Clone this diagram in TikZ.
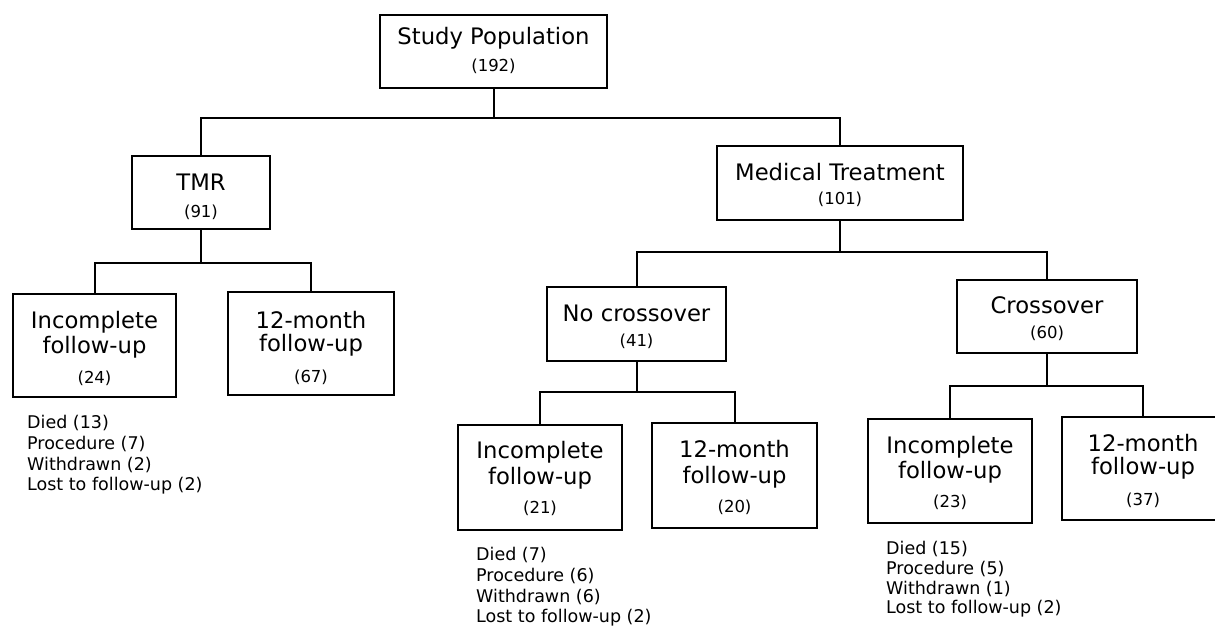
\documentclass[tikz,border=0pt]{standalone}
\usepackage{fontspec}
\setmainfont{DejaVu Sans}
\tikzset{
  box/.style={draw=black, line width=2pt, rectangle, inner sep=0pt},
  ttl/.style={inner sep=0pt, font=\fontsize{22.7}{26}\selectfont},
  num/.style={inner sep=0pt, font=\fontsize{16.5}{19}\selectfont},
  note/.style={inner sep=0pt, anchor=west, font=\fontsize{17.5}{20}\selectfont},
  conn/.style={draw=black, line width=2pt}
}
\begin{document}
\begin{tikzpicture}[x=1pt,y=-1pt]
\useasboundingbox (0,0) rectangle (1215,627);
\clip (0,0) rectangle (1215,627);
\fill[white] (0,0) rectangle (1215,627);
% boxes
\node[box, minimum width=227pt, minimum height=73pt] (sp) at (493.5,51.5) {};
\node[box, minimum width=138pt, minimum height=73pt] (tmr) at (201,192.5) {};
\node[box, minimum width=246pt, minimum height=74pt] (med) at (840,183) {};
\node[box, minimum width=163pt, minimum height=103pt] (inc24) at (94.5,345.5) {};
\node[box, minimum width=166pt, minimum height=103pt] (m67) at (311,343.5) {};
\node[box, minimum width=179pt, minimum height=74pt] (noc) at (636.5,324) {};
\node[box, minimum width=180pt, minimum height=73pt] (cro) at (1047,316.5) {};
\node[box, minimum width=164pt, minimum height=105pt] (inc21) at (540,477.5) {};
\node[box, minimum width=165pt, minimum height=105pt] (m20) at (734.5,475.5) {};
\node[box, minimum width=164pt, minimum height=104pt] (inc23) at (950,471) {};
\node[box, minimum width=162pt, minimum height=103pt] (m37) at (1143,468.5) {};
% box texts
\node[ttl] (sp1) at (493.5,38) {Study Population};
\node[num] (sp2) at (493.5,66) {(192)};
\node[ttl] (tmr1) at (201,182) {TMR};
\node[num] (tmr2) at (201,212) {(91)};
\node[ttl] (med1) at (840,172) {Medical Treatment};
\node[num] (med2) at (840,199) {(101)};
\node[ttl] (inc24a) at (94.5,322) {Incomplete};
\node[ttl] (inc24b) at (94.5,347) {follow-up};
\node[num] (inc24c) at (94.5,378) {(24)};
\node[ttl] (m67a) at (311,320) {12-month};
\node[ttl] (m67b) at (311,345) {follow-up};
\node[num] (m67c) at (311,377) {(67)};
\node[ttl] (noc1) at (636.5,313) {No crossover};
\node[num] (noc2) at (636.5,341) {(41)};
\node[ttl] (cro1) at (1047,305) {Crossover};
\node[num] (cro2) at (1047,333) {(60)};
\node[ttl] (inc21a) at (540,452) {Incomplete};
\node[ttl] (inc21b) at (540,478) {follow-up};
\node[num] (inc21c) at (540,508) {(21)};
\node[ttl] (m20a) at (734.5,449) {12-month};
\node[ttl] (m20b) at (734.5,477) {follow-up};
\node[num] (m20c) at (734.5,507) {(20)};
\node[ttl] (inc23a) at (950,447) {Incomplete};
\node[ttl] (inc23b) at (950,472) {follow-up};
\node[num] (inc23c) at (950,502) {(23)};
\node[ttl] (m37a) at (1143,443) {12-month};
\node[ttl] (m37b) at (1143,468) {follow-up};
\node[num] (m37c) at (1143,500) {(37)};
% notes
\node[note] (n1a) at (27,423) {Died (13)};
\node[note] (n1b) at (27,444) {Procedure (7)};
\node[note] (n1c) at (27,465) {Withdrawn (2)};
\node[note] (n1d) at (27,486) {Lost to follow-up (2)};
\node[note] (n2a) at (476,555) {Died (7)};
\node[note] (n2b) at (476,576) {Procedure (6)};
\node[note] (n2c) at (476,597) {Withdrawn (6)};
\node[note] (n2d) at (476,618) {Lost to follow-up (2)};
\node[note] (n3a) at (886,549) {Died (15)};
\node[note] (n3b) at (886,569) {Procedure (5)};
\node[note] (n3c) at (886,589) {Withdrawn (1)};
\node[note] (n3d) at (886,609) {Lost to follow-up (2)};
% junctions
\coordinate (j1) at (493.5,118);
\coordinate (j2) at (201,263);
\coordinate (j3) at (840,252);
\coordinate (j4) at (636.5,392);
\coordinate (j5) at (1047,386);
% connectors
\draw[conn] (sp.south) -- (j1);
\draw[conn] (tmr.north) |- (j1) -| (med.north);
\draw[conn] (tmr.south) -- (j2);
\draw[conn] (inc24.north) |- (j2) -| (m67.north);
\draw[conn] (med.south) -- (j3);
\draw[conn] (noc.north) |- (j3) -| (cro.north);
\draw[conn] (noc.south) -- (j4);
\draw[conn] (inc21.north) |- (j4) -| (m20.north);
\draw[conn] (cro.south) -- (j5);
\draw[conn] (inc23.north) |- (j5) -| (m37.north);
\end{tikzpicture}
\end{document}
